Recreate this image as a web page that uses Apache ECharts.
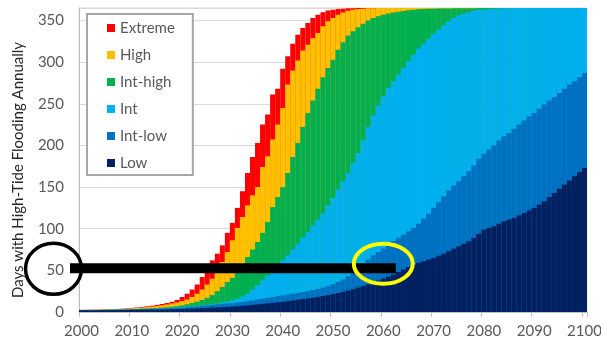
<!DOCTYPE html>
<html><head><meta charset="utf-8">
<script src="https://cdn.jsdelivr.net/npm/echarts@6/dist/echarts.min.js"></script>
<style>html,body{margin:0;padding:0;background:#fff}#c{width:601px;height:345px}</style>
</head><body><div id="c"></div>
<script>
// ---- categories ----
const years = [];
for (let y = 2000; y <= 2100; y++) years.push(String(y));
const seriesNames = ['Extreme', 'High', 'Int-high', 'Int', 'Int-low', 'Low'];
const seriesColors = ['#FF0000', '#FFC000', '#00B050', '#00B0F0', '#0070C0', '#002060'];
const yAxisTitle = 'Days with High-Tide Flooding Annually';

// ---- series values (days per year, 2000..2100) ----
const extreme = [
  2.6,2.7,2.8,2.9,3,3.2,3.4,3.7,4,4.4,
  4.9,5.4,6,6.8,7.6,8.5,9.6,10.8,12.2,14.5,
  18,22,27,33,42,51,62,70,80,95,
  107,125,145,167,186,203,225,237,261,268,
  292,307,322,333,341,347,353,357,360,362,
  363,363.7,364.2,364.6,364.8,365,365,365,365,365,
  365,365,365,365,365,365,365,365,365,365,
  365,365,365,365,365,365,365,365,365,365,
  365,365,365,365,365,365,365,365,365,365,
  365,365,365,365,365,365,365,365,365,365,365];
const high = [
  2.5,2.6,2.7,2.8,2.9,3,3.2,3.4,3.7,4,
  4.4,4.8,5.3,5.9,6.5,7.2,8,9,10.2,11.5,
  13,15,18,22,27,33,40,49,60,72,
  86,101,114,128,140,150,174,187,207,225,
  245,273,290,302,314,321,329,335,343,349,
  353,357,359.7,361.7,362.9,363.7,364.2,364.6,364.8,365,
  365,365,365,365,365,365,365,365,365,365,
  365,365,365,365,365,365,365,365,365,365,
  365,365,365,365,365,365,365,365,365,365,
  365,365,365,365,365,365,365,365,365,365,365];
const intHigh = [
  2.4,2.4,2.5,2.5,2.6,2.7,2.8,2.9,3,3.2,
  3.4,3.6,3.9,4.2,4.5,4.9,5.3,5.8,6.4,7.1,
  8,9.3,10.8,12.5,14.5,17,20.5,25,30,36,
  41,49,57,66,75,84,95,108,126,138,
  150,167,186,203,222,239,254,268,282,293,
  303,315,324,332,337,342,346,350,353,355,
  357,358.5,359.5,360.5,361.5,362.3,363,363.5,363.8,364,
  364.2,364.3,364.4,364.5,364.6,364.7,364.7,364.8,364.8,364.9,
  364.9,364.9,365,365,365,365,365,365,365,365,
  365,365,365,365,365,365,365,365,365,365,365];
const intMid = [
  2.3,2.3,2.4,2.4,2.5,2.6,2.7,2.8,2.9,3,
  3.1,3.3,3.5,3.7,3.9,4.2,4.5,4.8,5.2,5.6,
  6,6.5,7,7.5,8,8.6,9.3,10.2,11.2,12.4,
  14,16,18.5,22,27,32,38,44,50,56,
  62,68,75,82,89,96,104,111,119,128,
  137,147,157,167,179,191,206,222,236,248,
  259,269,277,285,293,301,309,316,322,328,
  334,339,344,349,353,356,358,360,361.7,362.9,
  363.3,363.7,364,364.3,364.6,364.8,365,365,365,365,
  365,365,365,365,365,365,365,365,365,365,365];
const intLow = [
  2.2,2.2,2.3,2.3,2.4,2.4,2.5,2.5,2.6,2.7,
  2.8,3,3.2,3.4,3.6,3.8,4,4.2,4.5,4.8,
  5,5.5,6,6.6,7.2,7.8,8.4,9,9.6,10.2,
  10.8,11.5,12.2,13,14,15,16,17,18,19,
  20,21,22,23,24,25,26.3,27.7,29.2,31,
  33.5,36,39,43,48,53,58,63,68,72,
  76,80,85,89,93,97,101,106,112,118,
  125,132,139,146,152,157,163,169,176,184,
  190,195,200,206,211,215,220,225,230,235,
  239,244,249,254,258,263,268,273,277,282,287];
const low = [
  2,2,2,2,2,2.1,2.2,2.3,2.4,2.5,
  2.6,2.7,2.8,2.9,3,3.1,3.2,3.3,3.4,3.5,
  3.7,3.9,4.1,4.4,4.7,5,5.3,5.6,5.9,6.2,
  6.5,7,7.5,8,8.6,9.2,9.8,10.4,11,11.6,
  12.3,13,13.8,14.6,15.4,16.3,17.2,18.2,19.2,20.3,
  21.5,22.8,24.2,25.8,27.5,29.3,31.2,33.2,35.4,37.7,
  40,42.5,45,48,51,54,57,59,61,63,
  65,67.5,70,73,76,79,82,85,89,94,
  99,101,103,106,109,111,113,116,119,122,
  125,129,133,138,143,148,153,158,163,168,173];
const seriesData = [extreme, high, intHigh, intMid, intLow, low];

// ---- y axis ticks ----
const yMin = 0, yMax = 365, yInterval = 50;

// ---- annotations (data positions) ----
const refLineValue = 50;        // horizontal marker at 50 days
const refLineEndYear = '2062';  // marker ends after this year's bar
const yellowRingYear = '2060', yellowRingValue = 58;

const FONT = 'Lato';
const chart = echarts.init(document.getElementById('c'), null, {renderer: 'canvas'});
const option = {
  animation: false,
  backgroundColor: '#ffffff',
  grid: {left: 79, right: 14, top: 8, bottom: 33, show: true, borderColor: '#d9d9d9', borderWidth: 1,
         backgroundColor: 'transparent', containLabel: false, outerBoundsMode: 'none'},
  legend: {
    orient: 'vertical', left: 87, top: 14, data: seriesNames, icon: 'rect',
    itemWidth: 8, itemHeight: 8, itemGap: 11, padding: [6, 18, 4, 20],
    backgroundColor: '#ffffff', borderColor: '#a6a6a6', borderWidth: 2, borderRadius: 0,
    selectedMode: false,
    textStyle: {color: '#595959', fontSize: 15, fontFamily: FONT, lineHeight: 16}
  },
  xAxis: {
    type: 'category', data: years, boundaryGap: true,
    axisLine: {show: true, lineStyle: {color: '#bfbfbf', width: 1}},
    axisTick: {show: true, length: 5, interval: (i) => i % 10 === 0, lineStyle: {color: '#bfbfbf'}},
    axisLabel: {interval: (i) => i % 10 === 0, color: '#595959', fontSize: 15, fontFamily: FONT, margin: 12},
    splitLine: {show: false}
  },
  yAxis: {
    type: 'value', min: yMin, max: yMax, interval: yInterval,
    axisLine: {show: true, lineStyle: {color: '#bfbfbf', width: 1}},
    axisTick: {show: false},
    axisLabel: {color: '#595959', fontSize: 15, fontFamily: FONT, margin: 15,
                showMaxLabel: false},
    splitLine: {show: true, lineStyle: {color: '#d9d9d9', width: 1}}
  },
  series: seriesNames.map((n, i) => ({
    name: n, type: 'bar', data: seriesData[i],
    barGap: '-100%', barCategoryGap: '0%',
    itemStyle: {color: seriesColors[i]},
    emphasis: {disabled: true}, z: 2 + i
  }))
};
chart.setOption(option);

// ---- annotation graphics positioned through the axes ----
const p0 = chart.convertToPixel({xAxisIndex: 0, yAxisIndex: 0}, ['2000', refLineValue]);
const p1 = chart.convertToPixel({xAxisIndex: 0, yAxisIndex: 0}, ['2001', refLineValue]);
const bw = p1[0] - p0[0];
const gridLeft = p0[0] - bw / 2;
const pe = chart.convertToPixel({xAxisIndex: 0, yAxisIndex: 0}, [refLineEndYear, refLineValue]);
const py = chart.convertToPixel({xAxisIndex: 0, yAxisIndex: 0}, [yellowRingYear, yellowRingValue]);
const lineY = p0[1] - 2;
chart.setOption({
  graphic: [
    {type: 'rect', z: 100, shape: {x: gridLeft - 9, y: lineY - 5, width: (pe[0] + bw / 2) - (gridLeft - 9), height: 10},
     style: {fill: '#000000'}},
    {type: 'ellipse', z: 101, shape: {cx: gridLeft - 25.5, cy: p0[1] - 1.5, rx: 28, ry: 25.5},
     style: {fill: 'none', stroke: '#000000', lineWidth: 3.5}},
    {type: 'ellipse', z: 102, shape: {cx: py[0], cy: py[1], rx: 29.5, ry: 20},
     style: {fill: 'none', stroke: '#FFFF00', lineWidth: 4}},
    {type: 'text', z: 50, x: 18, y: 170, rotation: Math.PI / 2,
     style: {text: yAxisTitle, fill: '#262626', font: '15px ' + FONT, align: 'center', verticalAlign: 'middle'}}
  ]
});
</script>
</body></html>
